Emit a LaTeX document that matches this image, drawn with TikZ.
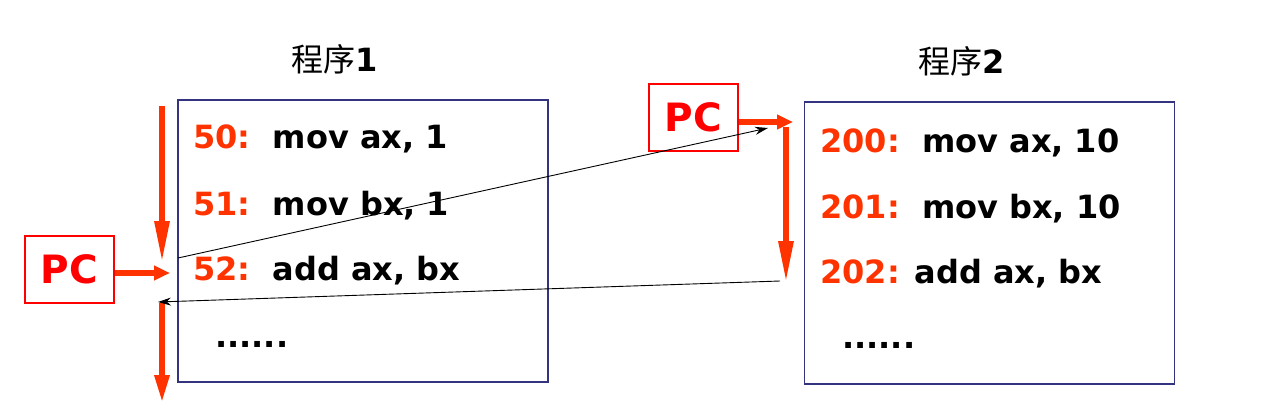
\documentclass[tikz,border=0pt]{standalone}
\usepackage{fontspec}
\setmainfont{DejaVu Sans}
\newfontfamily\cjk{Noto Sans CJK SC}
\usetikzlibrary{arrows.meta}
\definecolor{addr}{RGB}{255,51,0}
\definecolor{pcred}{RGB}{255,0,0}
\definecolor{frame}{RGB}{51,51,128}

\begin{document}
\begin{tikzpicture}[x=1pt,y=1pt,
		code/.style={anchor=base west,inner sep=0pt,font=\bfseries\fontsize{32}{38}\selectfont},
		prog/.style={draw=frame,line width=1.3pt,minimum width=370pt,minimum height=282pt,inner sep=0pt},
		pc/.style={draw=pcred,line width=1.3pt,text=pcred,minimum width=89pt,minimum height=67pt,inner sep=0pt,font=\bfseries\fontsize{39}{46}\selectfont},
		title/.style={inner sep=0pt,font=\fontsize{32}{38}\selectfont},
		flow/.style={draw=addr,line width=6pt,-{Triangle[length=#1,width=14pt]}},
		flow/.default=42pt,
		jump/.style={draw=black,line width=0.9pt,-{Stealth[length=13pt,width=8pt]}}]
			\useasboundingbox (0,0) rectangle (1267,-418);
			% program 1
			\draw (335,-59) node [title] (t1) {{\cjk 程序}\textbf{1}};
			\draw (363,-241) node [prog] (p1) {};
			\draw (193,-148) node [code] (l50) {\textcolor{addr}{50:}\ \ mov ax, 1};
			\draw (193,-215) node [code] (l51) {\textcolor{addr}{51:}\ \ mov bx, 1};
			\draw (193,-280) node [code] (l52) {\textcolor{addr}{52:}\ \ add ax, bx};
			\draw (215,-347) node [code] (ld) {......};
			\draw (69.5,-269.5) node [pc] (pc1) {PC};
			% program 2
			\draw (962,-61) node [title] (t2) {{\cjk 程序}\textbf{2}};
			\draw (989.5,-243) node [prog] (p2) {};
			\draw (820,-152) node [code] (l200) {\textcolor{addr}{200:}\ \ mov ax, 10};
			\draw (820,-218) node [code] (l201) {\textcolor{addr}{201:}\ \ mov bx, 10};
			\draw (820,-283) node [code] (l202) {\textcolor{addr}{202:} add ax, bx};
			\draw (842,-348) node [code] (rd) {......};
			\draw (693.5,-117.5) node [pc] (pc2) {PC};
			% arrow ends
			\coordinate (in1) at (170,-273);
			\coordinate (in2) at (793,-122);
			\coordinate (a1) at (162,-106);
			\coordinate (b1) at (162,-263);
			\coordinate (a2) at (162,-303);
			\coordinate (b2) at (162,-403);
			\coordinate (a3) at (786,-127);
			\coordinate (b3) at (786,-283);
			\coordinate (out1) at (178,-258);
			\coordinate (to2) at (768,-128);
			\coordinate (out2) at (780,-281);
			\coordinate (to1) at (158,-302);
			\path
				(a1) edge [flow] (b1)
				(a3) edge [flow] (b3)
				(a2) edge [flow=28pt] (b2)
				(pc1.east |- in1) edge [flow=16pt] (in1)
				(pc2.east |- in2) edge [flow=16pt] (in2)
				(out1) edge [jump] (to2)
				(out2) edge [jump] (to1);
		\end{tikzpicture}
\end{document}
